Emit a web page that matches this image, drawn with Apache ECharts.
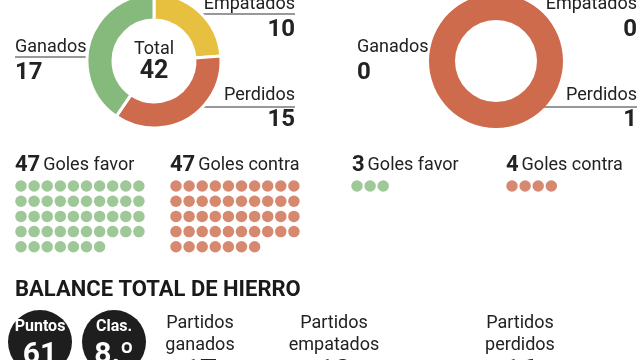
<!DOCTYPE html>
<html><head><meta charset="utf-8">
<script src="https://cdn.jsdelivr.net/npm/echarts@6/dist/echarts.min.js"></script>
<style>html,body{margin:0;padding:0;background:#fff}#c{width:640px;height:360px}</style>
</head><body><div id="c"></div>
<script>
// ---- data ----
const resultCategories = ['Empatados', 'Perdidos', 'Ganados'];
const ganados = [17, 0];
const empatados = [10, 0];
const perdidos = [15, 1];
const golesFavor = [47, 3];
const golesContra = [47, 4];
const puntos = 61;
const clasificacion = '8.º';
const balanceLabels = ['Partidos\nganados', 'Partidos\nempatados', 'Partidos\nperdidos'];
const balanceTitle = 'BALANCE TOTAL DE HIERRO';

// ---- style ----
const FONT = 'Roboto';
const TXT = '#222';
const C = { Ganados: '#86ba7d', Empatados: '#e8c040', Perdidos: '#cd6b4c' };

const panels = [
  { cx: 154, left: 15, right: 295, gx: [15, 170], dotX: [21, 176], total: true },
  { cx: 496, left: 357, right: 637, gx: [352, 506], dotX: [357, 512], total: false }
];
const CY = 61;

const chart = echarts.init(document.getElementById('c'), null, { renderer: 'canvas' });
const series = [];
const graphic = [];

function txt(x, y, text, opt) {
  graphic.push({ type: 'text', x: x, y: y, silent: true, style: Object.assign({
    text: text, fontFamily: FONT, fontSize: 18, fill: TXT,
    textAlign: 'left', textVerticalAlign: 'middle'
  }, opt || {}) });
}
function hline(x1, x2, y) {
  graphic.push({ type: 'line', silent: true, shape: { x1: x1, y1: y, x2: x2, y2: y },
    style: { stroke: '#333', lineWidth: 1 } });
}

panels.forEach((p, i) => {
  const vals = { Ganados: ganados[i], Empatados: empatados[i], Perdidos: perdidos[i] };
  const data = resultCategories.map(k => ({ name: k, value: vals[k], itemStyle: { color: C[k] } }));
  const nonZero = data.filter(d => d.value > 0).length;
  series.push({
    type: 'pie', center: [p.cx, CY], radius: [41, 67], startAngle: 90, clockwise: true,
    silent: true, label: { show: false }, labelLine: { show: false },
    itemStyle: { borderColor: '#fff', borderWidth: nonZero > 1 ? 3 : 0 },
    data: data, animation: false
  });
  // labels
  txt(p.left, 47, 'Ganados');
  txt(p.left, 73, String(vals.Ganados), { fontSize: 24, fontWeight: 'bold' });
  txt(p.right, 4, 'Empatados', { textAlign: 'right' });
  txt(p.right, 30, String(vals.Empatados), { textAlign: 'right', fontSize: 24, fontWeight: 'bold' });
  txt(p.right, 95, 'Perdidos', { textAlign: 'right' });
  txt(p.right, 120, String(vals.Perdidos), { textAlign: 'right', fontSize: 24, fontWeight: 'bold' });
  if (vals.Ganados > 0) hline(p.left, p.cx - 52, 57);
  if (vals.Empatados > 0) hline(p.cx + 19, p.right, 14);
  if (vals.Perdidos > 0) hline(p.cx + 20, p.right, 107);
  if (p.total) {
    txt(p.cx, 49, 'Total', { textAlign: 'center' });
    txt(p.cx, 72, String(vals.Ganados + vals.Empatados + vals.Perdidos), { textAlign: 'center', fontSize: 25, fontWeight: 'bold' });
  }
  // goles
  const rich = { n: { fontFamily: FONT, fontSize: 22, fontWeight: 'bold', fill: TXT, color: TXT },
                 t: { fontFamily: FONT, fontSize: 18, fill: TXT, color: TXT } };
  graphic.push({ type: 'text', x: p.gx[0], y: 165, silent: true, style: {
    text: '{n|' + golesFavor[i] + '} {t|Goles favor}', rich: rich, textVerticalAlign: 'middle', fontFamily: FONT } });
  graphic.push({ type: 'text', x: p.gx[1], y: 165, silent: true, style: {
    text: '{n|' + golesContra[i] + '} {t|Goles contra}', rich: rich, textVerticalAlign: 'middle', fontFamily: FONT } });
  [[golesFavor[i], p.dotX[0], C.Ganados], [golesContra[i], p.dotX[1], C.Perdidos]].forEach(([n, x0, col]) => {
    const pts = [];
    for (let k = 0; k < n; k++) pts.push([x0 + (k % 10) * 13.1, 186 + Math.floor(k / 10) * 15.2]);
    series.push({ type: 'scatter', xAxisIndex: 0, yAxisIndex: 0, symbol: 'circle', symbolSize: 11.5,
      itemStyle: { color: col }, data: pts, silent: true, animation: false });
  });
});

// balance section
txt(15, 290, balanceTitle, { fontSize: 22, fontWeight: 'bold', fill: '#1a1a1a' });
[[40, 'Puntos', String(puntos)], [114, 'Clas.', clasificacion]].forEach(([x, a, b]) => {
  graphic.push({ type: 'circle', silent: true, shape: { cx: x, cy: 342, r: 32 }, style: { fill: '#1e1e1e' } });
  txt(x, 327, a, { textAlign: 'center', fill: '#fff', fontSize: 16, fontWeight: 'bold' });
  txt(x, 355, b, { textAlign: 'center', fill: '#fff', fontSize: 30, fontWeight: 'bold' });
});
const totals = [ganados[0] + ganados[1], empatados[0] + empatados[1], perdidos[0] + perdidos[1]];
[200, 334, 520].forEach((x, k) => {
  txt(x, 334, balanceLabels[k], { textAlign: 'center', lineHeight: 22 });
  txt(x, 372, String(totals[k]), { textAlign: 'center', fontSize: 30, fontWeight: 'bold' });
});

chart.setOption({
  animation: false,
  backgroundColor: '#fff',
  grid: { left: 0, right: 0, top: 0, bottom: 0 },
  xAxis: { type: 'value', min: 0, max: 640, show: false },
  yAxis: { type: 'value', min: 0, max: 360, inverse: true, show: false },
  series: series,
  graphic: graphic
});
</script></body></html>
